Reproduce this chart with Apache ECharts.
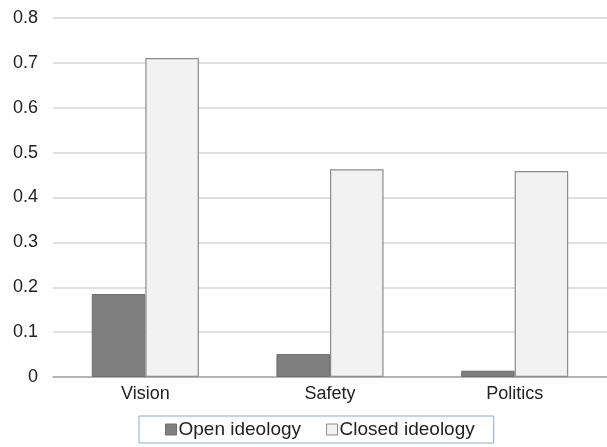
<!DOCTYPE html>
<html>
<head>
<meta charset="utf-8">
<script src="https://cdn.jsdelivr.net/npm/echarts@6/dist/echarts.min.js"></script>
<style>
  html, body { margin: 0; padding: 0; background: #fff; }
  #chart { width: 607px; height: 447px; }
</style>
</head>
<body>
<div id="chart"></div>
<script>
// Topics on the category axis
const categories = ['Vision', 'Safety', 'Politics'];
// Share per topic for each ideology group
const openIdeology = [0.185, 0.051, 0.014];
const closedIdeology = [0.711, 0.463, 0.459];
// Value axis range and step
const yMin = 0;
const yMax = 0.8;
const yStep = 0.1;

const font = 'Liberation Sans, Arial, Helvetica, sans-serif';
const chart = echarts.init(document.getElementById('chart'), null, { renderer: 'canvas' });

chart.setOption({
  animation: false,
  backgroundColor: '#ffffff',
  textStyle: { fontFamily: font },
  // plot area runs past the right edge of the canvas
  grid: { left: 53, width: 563, top: 18, bottom: 70, containLabel: false },
  legend: {
    left: 139,
    top: 416,
    padding: [4, 19, 4, 26],
    borderColor: '#88a9d8',
    borderWidth: 1,
    borderRadius: 0,
    itemWidth: 11,
    itemHeight: 11,
    itemGap: 25,
    textStyle: { fontSize: 19, color: '#222', fontFamily: font, padding: [0, 0, 0, -3] },
    data: [
      { name: 'Open ideology', icon: 'rect', itemStyle: { color: '#7f7f7f', borderColor: '#6e6e6e', borderWidth: 1 } },
      { name: 'Closed ideology', icon: 'rect', itemStyle: { color: '#f2f2f2', borderColor: '#8c8c8c', borderWidth: 1 } }
    ]
  },
  xAxis: {
    type: 'category',
    data: categories,
    axisLine: { lineStyle: { color: '#a6a6a6', width: 1.5 } },
    axisTick: { show: false },
    axisLabel: { fontSize: 18, color: '#222', margin: 8, fontFamily: font }
  },
  yAxis: {
    type: 'value',
    min: yMin,
    max: yMax,
    interval: yStep,
    axisLine: { show: false },
    axisTick: { show: false },
    splitLine: { lineStyle: { color: '#d6d6d6', width: 1.5 } },
    axisLabel: {
      fontSize: 18,
      color: '#222',
      margin: 15,
      fontFamily: font,
      formatter: v => (Math.abs(v) < 1e-9 ? '0' : v.toFixed(1))
    }
  },
  series: [
    {
      name: 'Open ideology',
      type: 'bar',
      data: openIdeology,
      barGap: '0%',
      barCategoryGap: '42%',
      itemStyle: { color: '#7f7f7f', borderColor: '#6e6e6e', borderWidth: 1 }
    },
    {
      name: 'Closed ideology',
      type: 'bar',
      data: closedIdeology,
      itemStyle: { color: '#f2f2f2', borderColor: '#8c8c8c', borderWidth: 1.2 }
    }
  ]
});
</script>
</body>
</html>
